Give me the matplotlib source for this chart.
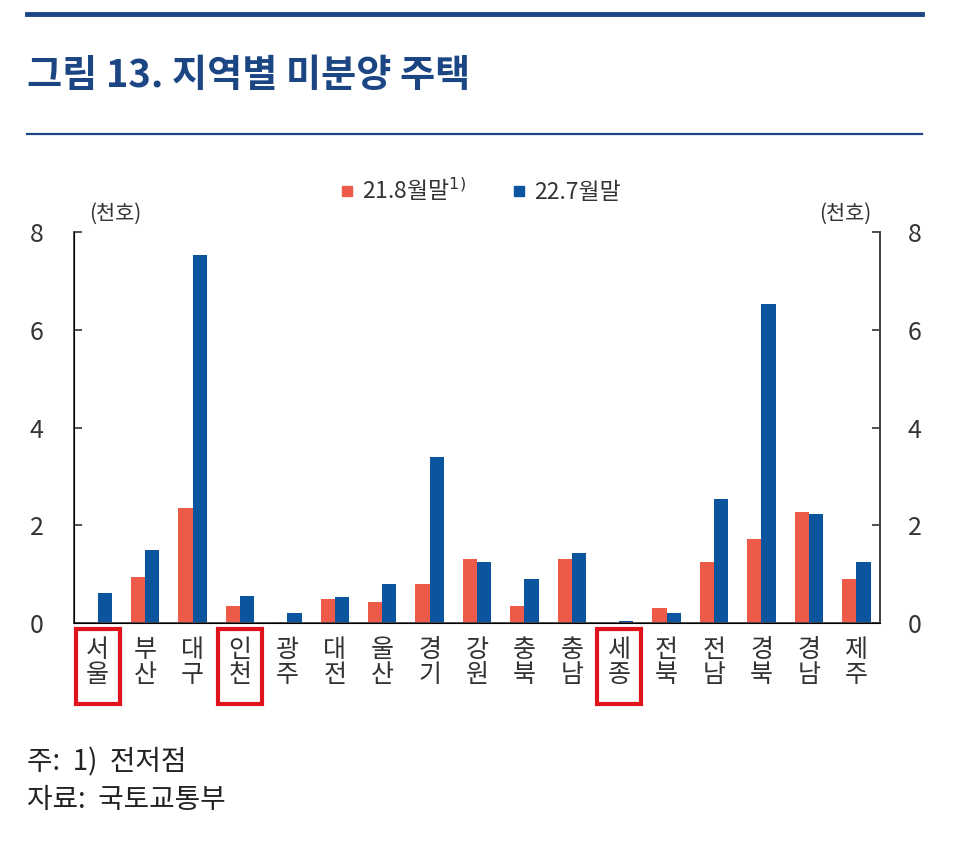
import matplotlib
matplotlib.use('Agg')
import matplotlib.pyplot as plt
import matplotlib.patches as patches
from matplotlib.lines import Line2D
import numpy as np

plt.rcParams['font.family'] = ['Noto Sans CJK KR', 'DejaVu Sans']

# data (천호)
regions = ['서울', '부산', '대구', '인천', '광주', '대전', '울산', '경기', '강원',
           '충북', '충남', '세종', '전북', '전남', '경북', '경남', '제주']
aug21 = [0.02, 0.95, 2.36, 0.34, 0.02, 0.50, 0.43, 0.80, 1.31,
         0.34, 1.31, 0.0, 0.31, 1.25, 1.72, 2.27, 0.91]
jul22 = [0.61, 1.50, 7.52, 0.56, 0.20, 0.53, 0.80, 3.39, 1.25,
         0.91, 1.43, 0.05, 0.20, 2.53, 6.52, 2.24, 1.25]
boxed = ['서울', '인천', '세종']
series_names = ['21.8월말$^{1)}$', '22.7월말']

red = '#EE5A4A'
blue = '#0B559F'
navy = '#1C4683'
W, H = 980, 852

fig = plt.figure(figsize=(W / 100, H / 100), dpi=100)
ax = fig.add_axes([74 / W, 1 - 623 / H, (880 - 74) / W, (623 - 232) / H])

x = np.arange(len(regions))
bw = 0.3
ax.bar(x - bw / 2, aug21, width=bw, color=red)
ax.bar(x + bw / 2, jul22, width=bw, color=blue)

ax.set_xlim(-0.5, len(regions) - 0.5)
ax.set_ylim(0, 8)
ax.set_yticks([0, 2, 4, 6, 8])
ax.tick_params(axis='y', direction='in', length=6, width=1.2, labelsize=18,
               colors='#333333', pad=22)
ax.tick_params(axis='x', length=0)
ax.set_xticks(x)
ax.set_xticklabels(['\n'.join(r) for r in regions], fontsize=18,
                   linespacing=0.95, color='#333333')
ax.xaxis.set_tick_params(pad=10)
ax.spines['top'].set_visible(False)
for s in ['left', 'right', 'bottom']:
    ax.spines[s].set_color('#444444')
    ax.spines[s].set_linewidth(1.3)

ax2 = ax.twinx()
ax2.set_ylim(0, 8)
ax2.set_yticks([0, 2, 4, 6, 8])
ax2.tick_params(axis='y', direction='in', length=6, width=1.2, labelsize=18,
                colors='#333333', pad=20)
ax2.spines['top'].set_visible(False)
ax2.spines['right'].set_color('#444444')
ax2.spines['right'].set_linewidth(1.3)

# red boxes around some labels
for r in boxed:
    i = regions.index(r)
    rect = patches.Rectangle((i - 0.46, -0.207), 0.92, 0.191,
                             transform=ax.get_xaxis_transform(), fill=False,
                             edgecolor='#E0121B', linewidth=3, clip_on=False)
    ax.add_patch(rect)

# unit labels
fig.text(115 / W, 1 - 214 / H, '(천호)', fontsize=15, color='#333333',
         ha='center', va='center')
fig.text(845 / W, 1 - 214 / H, '(천호)', fontsize=15, color='#333333',
         ha='center', va='center')

# legend
handles = [Line2D([], [], marker='s', linestyle='', color=red, markersize=7),
           Line2D([], [], marker='s', linestyle='', color=blue, markersize=7)]
fig.legend(handles, series_names, loc='center', bbox_to_anchor=(478 / W, 1 - 190 / H),
           ncol=2, frameon=False, fontsize=16.5, handletextpad=0.15,
           handlelength=1.0, columnspacing=1.8, labelcolor='#333333')

# header lines and title
fig.add_artist(Line2D([27 / W, 922 / W], [1 - 14 / H, 1 - 14 / H], color=navy, linewidth=3.5))
fig.add_artist(Line2D([27 / W, 922 / W], [1 - 134 / H, 1 - 134 / H], color=navy, linewidth=1.6))
fig.text(27 / W, 1 - 75 / H, '그림 13. 지역별 미분양 주택', fontsize=27.5, fontweight='bold',
         color=navy, ha='left', va='center')

# footnotes
fig.text(27 / W, 1 - 762 / H, '주:  1)  전저점', fontsize=20, color='#222222',
         ha='left', va='center')
fig.text(27 / W, 1 - 800 / H, '자료:  국토교통부', fontsize=20, color='#222222',
         ha='left', va='center')

fig.savefig('out.png', dpi=100, facecolor='white')
